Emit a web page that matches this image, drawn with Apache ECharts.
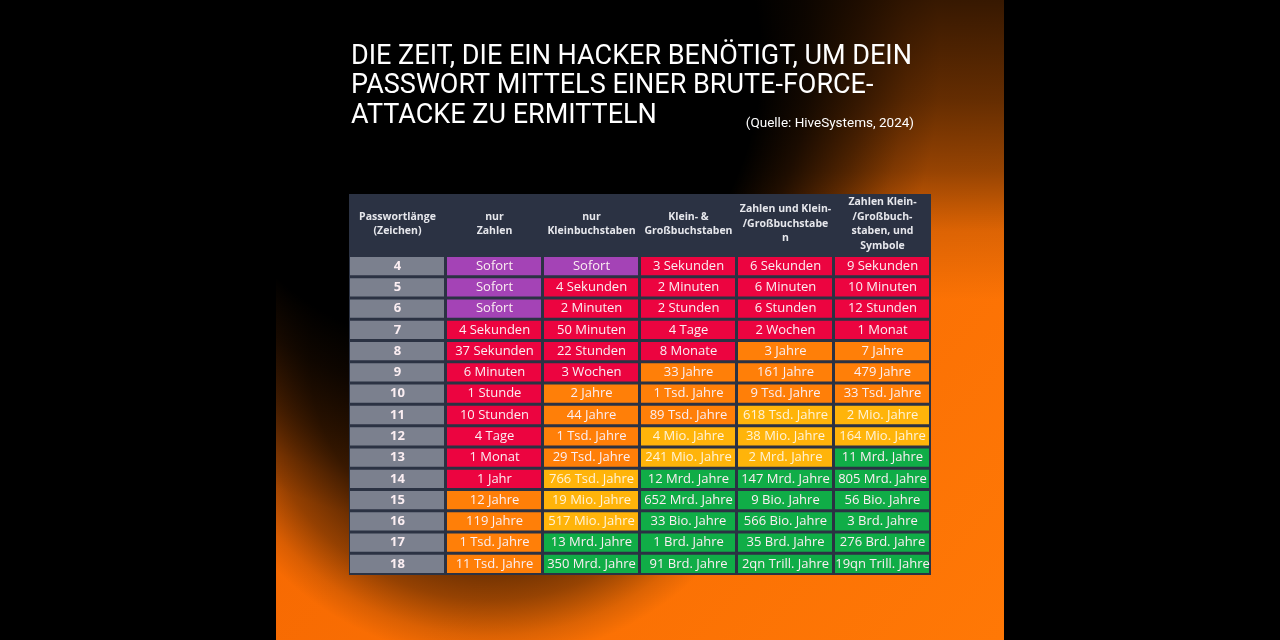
<!DOCTYPE html>
<html>
<head>
<meta charset="utf-8">
<script src="https://cdn.jsdelivr.net/npm/echarts@6/dist/echarts.min.js"></script>
<style>
  html, body { margin: 0; padding: 0; background: #000; }
  #main { width: 1280px; height: 640px; }
</style>
</head>
<body>
<div id="main"></div>
<script>
// Spaltenköpfe
var headers = [
  'Passwortlänge\n(Zeichen)',
  'nur\nZahlen',
  'nur\nKleinbuchstaben',
  'Klein- &\nGroßbuchstaben',
  'Zahlen und Klein-\n/Großbuchstabe\nn',
  'Zahlen Klein-\n/Großbuch-\nstaben, und\nSymbole'
];
var lengths = ['4', '5', '6', '7', '8', '9', '10', '11', '12', '13', '14', '15', '16', '17', '18'];

// Zeiten pro Spalte
var nurZahlen = ['Sofort', 'Sofort', 'Sofort', '4 Sekunden', '37 Sekunden', '6 Minuten', '1 Stunde', '10 Stunden', '4 Tage', '1 Monat', '1 Jahr', '12 Jahre', '119 Jahre', '1 Tsd. Jahre', '11 Tsd. Jahre'];
var nurKlein = ['Sofort', '4 Sekunden', '2 Minuten', '50 Minuten', '22 Stunden', '3 Wochen', '2 Jahre', '44 Jahre', '1 Tsd. Jahre', '29 Tsd. Jahre', '766 Tsd. Jahre', '19 Mio. Jahre', '517 Mio. Jahre', '13 Mrd. Jahre', '350 Mrd. Jahre'];
var kleinGross = ['3 Sekunden', '2 Minuten', '2 Stunden', '4 Tage', '8 Monate', '33 Jahre', '1 Tsd. Jahre', '89 Tsd. Jahre', '4 Mio. Jahre', '241 Mio. Jahre', '12 Mrd. Jahre', '652 Mrd. Jahre', '33 Bio. Jahre', '1 Brd. Jahre', '91 Brd. Jahre'];
var zahlenKleinGross = ['6 Sekunden', '6 Minuten', '6 Stunden', '2 Wochen', '3 Jahre', '161 Jahre', '9 Tsd. Jahre', '618 Tsd. Jahre', '38 Mio. Jahre', '2 Mrd. Jahre', '147 Mrd. Jahre', '9 Bio. Jahre', '566 Bio. Jahre', '35 Brd. Jahre', '2qn Trill. Jahre'];
var mitSymbolen = ['9 Sekunden', '10 Minuten', '12 Stunden', '1 Monat', '7 Jahre', '479 Jahre', '33 Tsd. Jahre', '2 Mio. Jahre', '164 Mio. Jahre', '11 Mrd. Jahre', '805 Mrd. Jahre', '56 Bio. Jahre', '3 Brd. Jahre', '276 Brd. Jahre', '19qn Trill. Jahre'];

// Farbstufe pro Zelle: P lila, R rot, O orange, Y gelb, G grün
var stufeZahlen = ['P', 'P', 'P', 'R', 'R', 'R', 'R', 'R', 'R', 'R', 'R', 'O', 'O', 'O', 'O'];
var stufeKlein = ['P', 'R', 'R', 'R', 'R', 'R', 'O', 'O', 'O', 'O', 'Y', 'Y', 'Y', 'G', 'G'];
var stufeKleinGross = ['R', 'R', 'R', 'R', 'R', 'O', 'O', 'O', 'Y', 'Y', 'G', 'G', 'G', 'G', 'G'];
var stufeZahlenKG = ['R', 'R', 'R', 'R', 'O', 'O', 'O', 'Y', 'Y', 'Y', 'G', 'G', 'G', 'G', 'G'];
var stufeSymbole = ['R', 'R', 'R', 'R', 'O', 'O', 'O', 'Y', 'Y', 'G', 'G', 'G', 'G', 'G', 'G'];

var farben = { L: '#7b808e', P: '#a443b6', R: '#ec0440', O: '#ff7f08', Y: '#ffb40a', G: '#10ad47' };

var spalten = [lengths, nurZahlen, nurKlein, kleinGross, zahlenKleinGross, mitSymbolen];
var stufen = [null, stufeZahlen, stufeKlein, stufeKleinGross, stufeZahlenKG, stufeSymbole];

var cells = [];
spalten.forEach(function (col, x) {
  col.forEach(function (txt, y) {
    cells.push([x, y, txt, x === 0 ? 'L' : stufen[x][y]]);
  });
});

// dunkle, weiche Flecken über dem orangen Hintergrund
function schatten(cx, cy, r, stops) {
  return {
    type: 'rect', z: -19, silent: true,
    shape: { x: 276, y: 0, width: 728, height: 640 },
    style: {
      fill: {
        type: 'radial', global: true, x: cx, y: cy, r: r,
        colorStops: stops.map(function (s) {
          return { offset: s[0], color: 'rgba(0,0,0,' + s[1] + ')' };
        })
      }
    }
  };
}

var chart = echarts.init(document.getElementById('main'));

var option = {
  backgroundColor: '#000',
  graphic: [
    {
      type: 'rect', z: -20, silent: true,
      shape: { x: 276, y: 0, width: 728, height: 640 },
      style: {
        fill: {
          type: 'linear', x: 0, y: 0, x2: 1, y2: 1,
          colorStops: [
            { offset: 0, color: '#f26200' },
            { offset: 1, color: '#ff7806' }
          ]
        }
      }
    },
    schatten(470, 60, 470, [[0, 1], [0.62, 1], [0.72, 0.8], [0.84, 0.45], [0.93, 0.15], [1, 0]]),
    schatten(490, 360, 300, [[0, 0.85], [0.6, 0.7], [0.8, 0.4], [0.92, 0.12], [1, 0]]),
    {
      type: 'rect', z: -18, silent: true,
      shape: { x: 276, y: 0, width: 728, height: 300 },
      style: {
        fill: {
          type: 'linear', x: 0, y: 0, x2: 0, y2: 1,
          colorStops: [
            { offset: 0, color: 'rgba(0,0,0,0.78)' },
            { offset: 0.33, color: 'rgba(0,0,0,0.6)' },
            { offset: 0.57, color: 'rgba(0,0,0,0.4)' },
            { offset: 0.77, color: 'rgba(0,0,0,0.12)' },
            { offset: 1, color: 'rgba(0,0,0,0)' }
          ]
        }
      }
    },
    {
      type: 'rect', z: -5, silent: true,
      shape: { x: 349, y: 194, width: 582, height: 381 },
      style: { fill: '#2b3243' }
    }
  ],
  title: [
    {
      text: 'DIE ZEIT, DIE EIN HACKER BENÖTIGT, UM DEIN\nPASSWORT MITTELS EINER BRUTE-FORCE-\nATTACKE ZU ERMITTELN',
      left: 346, top: 37,
      textStyle: { color: '#fff', fontFamily: 'Roboto', fontWeight: 'normal', fontSize: 27, lineHeight: 29.5 }
    },
    {
      text: '(Quelle: HiveSystems, 2024)',
      right: 361, top: 112,
      textStyle: { color: '#fff', fontFamily: 'Roboto', fontWeight: 'normal', fontSize: 13.5 }
    }
  ],
  grid: { left: 349, right: 349, top: 256, bottom: 65 },
  xAxis: {
    type: 'category',
    position: 'top',
    data: headers,
    axisLine: { show: false },
    axisTick: { show: false },
    splitLine: { show: false },
    axisLabel: {
      interval: 0,
      margin: 32,
      verticalAlign: 'middle',
      color: '#e6e7ec',
      fontFamily: 'Open Sans',
      fontWeight: 'bold',
      fontSize: 10.5,
      lineHeight: 14.5
    }
  },
  yAxis: {
    type: 'category',
    inverse: true,
    data: lengths,
    axisLine: { show: false },
    axisTick: { show: false },
    axisLabel: { show: false },
    splitLine: { show: false }
  },
  series: [{
    type: 'custom',
    data: cells,
    renderItem: function (params, api) {
      var c = api.coord([api.value(0), api.value(1)]);
      var s = api.size([1, 1]);
      var d = cells[params.dataIndex];
      var x0 = c[0] - s[0] / 2 + 1;
      var y0 = c[1] - s[1] / 2 + 1;
      return {
        type: 'group',
        children: [
          {
            type: 'rect',
            shape: { x: x0, y: y0, width: s[0] - 3, height: s[1] - 3 },
            style: { fill: farben[d[3]] }
          },
          {
            type: 'text',
            style: {
              x: c[0], y: c[1] - 0.5,
              text: d[2],
              align: 'center', verticalAlign: 'middle',
              fill: d[3] === 'Y' ? '#fff3d8' : '#fbeef2',
              fontFamily: 'Open Sans',
              fontWeight: d[3] === 'L' ? 'bold' : 'normal',
              fontSize: 13
            }
          }
        ]
      };
    }
  }]
};

chart.setOption(option);
</script>
</body>
</html>
